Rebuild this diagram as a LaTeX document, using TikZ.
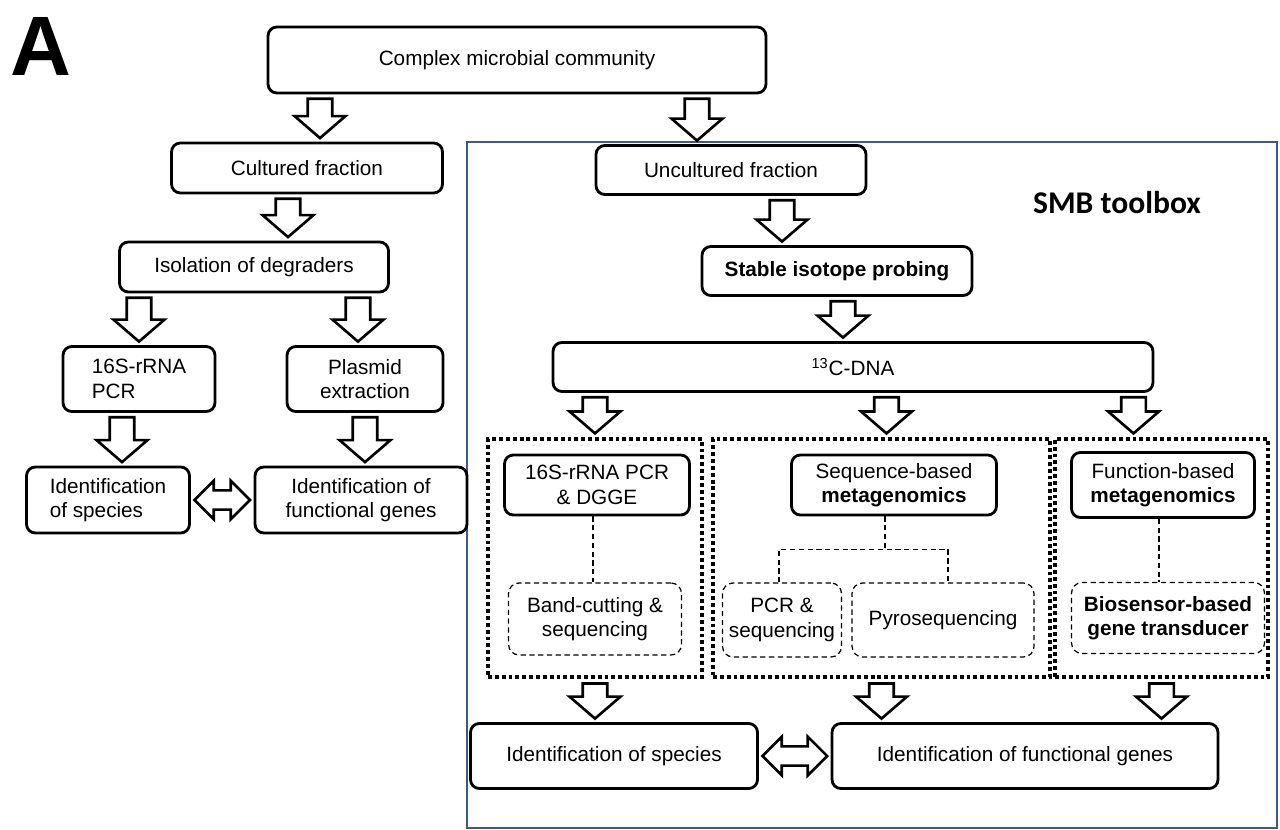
\documentclass[tikz,border=0pt]{standalone}
\usepackage{fontspec}
\setmainfont{Liberation Sans}
\newfontfamily\calibfont{Carlito}
\usepackage{tikz}
\usetikzlibrary{calc}
\definecolor{smbblue}{RGB}{55,90,150}

\begin{document}
\begin{tikzpicture}[x=0.02cm, y=-0.02cm, font=\fontsize{11.8}{14}\selectfont,
  box/.style={draw, line width=1.6pt, rounded corners=5pt, fill=white, align=center, inner sep=0pt},
  subbox/.style={draw, line width=0.7pt, dash pattern=on 3pt off 2pt, rounded corners=6pt, align=center, inner sep=0pt},
  group/.style={draw, line width=2.4pt, dash pattern=on 2.2pt off 1.7pt, inner sep=0pt},
  dashln/.style={line width=0.7pt, dash pattern=on 3pt off 2pt},
  hollow/.style={draw, fill=white, line width=1.5pt, to path={let \p1=(\tikztostart), \p2=(\tikztotarget) in
    (\x1-7pt,\y1-2.5pt) -- (\x1+7pt,\y1-2.5pt) -- (\x1+7pt,\y2+14.5pt) -- (\x1+14.5pt,\y2+14.5pt)
    -- (\x1,\y2+2pt) -- (\x1-14.5pt,\y2+14.5pt) -- (\x1-7pt,\y2+14.5pt) -- cycle}},
  hollowboth/.style={draw, fill=white, line width=1.5pt, to path={let \p1=(\tikztostart), \p2=(\tikztotarget) in
    (\x1+2pt,\y1) -- (\x1+13pt,\y1+11pt) -- (\x1+13pt,\y1+5.5pt) -- (\x2-13pt,\y1+5.5pt) -- (\x2-13pt,\y1+11pt)
    -- (\x2-2pt,\y1) -- (\x2-13pt,\y1-11pt) -- (\x2-13pt,\y1-5.5pt) -- (\x1+13pt,\y1-5.5pt) -- (\x1+13pt,\y1-11pt) -- cycle}}]
  \useasboundingbox (0,0) rectangle (1280,830);

  \node[font=\fontsize{48}{48}\selectfont\bfseries, inner sep=0pt] (lblA) at (41,46.5) {A};

  % SMB toolbox frame
  \node[draw=smbblue, line width=1.6pt, minimum width=16.2cm, minimum height=13.72cm, inner sep=0pt] (smbframe) at (872,485) {};
  \node[font=\calibfont\fontsize{18}{18}\selectfont\bfseries] (smb) at (1117,203) {SMB toolbox};

  % cultured side
  \node[box, minimum width=9.96cm, minimum height=1.32cm] (cmc) at (517,60) {Complex microbial community};
  \node[box, minimum width=5.42cm, minimum height=1.0cm] (cult) at (307,168) {Cultured fraction};
  \node[box, minimum width=5.38cm, minimum height=1.0cm] (iso) at (254,267) {Isolation of degraders};
  \node[box, minimum width=3.04cm, minimum height=1.3cm, align=left] (rrnaL) at (139,379) {16S-rRNA\\PCR};
  \node[box, minimum width=3.12cm, minimum height=1.3cm] (plas) at (365,379) {Plasmid\\extraction};
  \node[box, minimum width=3.26cm, minimum height=1.32cm, align=left] (idspL) at (108,500) {Identification\\of species};
  \node[box, minimum width=4.24cm, minimum height=1.32cm] (idfgL) at (361,500) {Identification of\\functional genes};

  % uncultured side
  \node[box, minimum width=5.4cm, minimum height=0.98cm] (uncult) at (731,170) {Uncultured fraction};
  \node[box, minimum width=5.4cm, minimum height=0.98cm, font=\fontsize{11.8}{14}\selectfont\bfseries] (sip) at (837,271) {Stable isotope probing};
  \node[box, minimum width=12cm, minimum height=0.98cm] (c13) at (853,367) {\textsuperscript{13}C-DNA};

  \node[group, minimum width=4.28cm, minimum height=4.76cm] (grp1) at (595,558) {};
  \node[group, minimum width=6.74cm, minimum height=4.76cm] (grp2) at (881.5,558) {};
  \node[group, minimum width=4.26cm, minimum height=4.76cm] (grp3) at (1161.5,558) {};

  \node[box, minimum width=3.7cm, minimum height=1.2cm] (pcr16) at (597,485) {16S-rRNA PCR\\\& DGGE};
  \node[subbox, minimum width=3.46cm, minimum height=1.44cm] (band) at (595,619) {Band-cutting \&\\sequencing};
  \node[box, minimum width=4.1cm, minimum height=1.2cm] (seqm) at (894,485) {Sequence-based\\\textbf{metagenomics}};
  \node[subbox, minimum width=2.38cm, minimum height=1.48cm] (pcrseq) at (782,620) {PCR \&\\sequencing};
  \node[subbox, minimum width=3.64cm, minimum height=1.48cm] (pyro) at (943,620) {Pyrosequencing};
  \node[box, minimum width=3.66cm, minimum height=1.3cm] (funm) at (1163,485) {Function-based\\\textbf{metagenomics}};
  \node[subbox, minimum width=3.86cm, minimum height=1.42cm, font=\fontsize{11.8}{14}\selectfont\bfseries] (bios) at (1168,618) {Biosensor-based\\gene transducer};

  \node[box, minimum width=5.74cm, minimum height=1.3cm] (idspR) at (614,756) {Identification of species};
  \node[box, minimum width=7.72cm, minimum height=1.3cm] (idfgR) at (1025,756) {Identification of functional genes};

  % dashed links
  \draw[dashln] ($(pcr16.south)+(-4,0)$) -- ($(pcr16.south |- band.north)+(-4,0)$);
  \draw[dashln] ($(seqm.south)+(-9,0)$) -- ++(0,33) coordinate (fork);
  \draw[dashln] ($(pcrseq.north)+(-3,0)$) |- (fork) -| ($(pyro.north)+(5,0)$);
  \draw[dashln] ($(funm.south)+(-4,0)$) -- ($(funm.south |- bios.north)+(-4,0)$);

  % block arrows
  \draw[hollow] ($(cult.north |- cmc.south)+(13,0)$) to (cult.north);
  \draw[hollow] ($(uncult.north |- cmc.south)+(-34,0)$) to (uncult.north);
  \draw[hollow] ($(iso.north |- cult.south)+(34,0)$) to (iso.north);
  \draw[hollow] (rrnaL.north |- iso.south) to (rrnaL.north);
  \draw[hollow] ($(plas.north |- iso.south)+(-7,0)$) to (plas.north);
  \draw[hollow] ($(idspL.north |- rrnaL.south)+(14,0)$) to (idspL.north);
  \draw[hollow] (plas.south) to (idfgL.north);
  \draw[hollow] ($(sip.north |- uncult.south)+(-55,0)$) to (sip.north);
  \draw[hollow] ($(sip.south)+(6,0)$) to (c13.north);
  \draw[hollow] (grp1.north |- c13.south) to (grp1.north);
  \draw[hollow] ($(grp2.north |- c13.south)+(5,0)$) to (grp2.north);
  \draw[hollow] ($(grp3.north |- c13.south)+(-28,0)$) to (grp3.north);
  \draw[hollow] (grp1.south) to (idspR.north);
  \draw[hollow] (grp2.south) to (idfgR.north -| grp2.south);
  \draw[hollow] (grp3.south) to (idfgR.north -| grp3.south);
  \draw[hollowboth] (idspL.east) to (idfgL.west);
  \draw[hollowboth] (idspR.east) to (idfgR.west);
\end{tikzpicture}
\end{document}
